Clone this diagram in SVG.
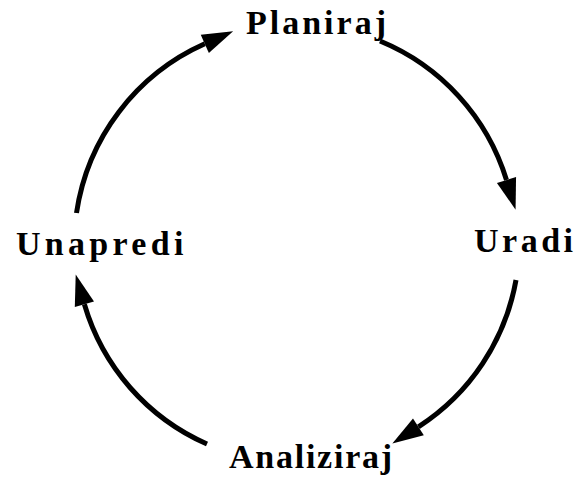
<svg xmlns="http://www.w3.org/2000/svg" width="579" height="478" viewBox="0 0 579 478">
  <style>
    .lbl { font-family: "Liberation Serif", "Times New Roman", serif; font-weight: bold; font-size: 34px; fill: #000; }
    .arc { fill: none; stroke: #000; stroke-width: 5; }
  </style>
  <defs>
    <marker id="ah" markerUnits="userSpaceOnUse" markerWidth="32" markerHeight="22" refX="0" refY="10" orient="auto" overflow="visible">
      <polygon points="0,0 31,10 0,20" fill="#000"/>
    </marker>
  </defs>
  <rect width="579" height="478" fill="#fff"/>
  <g id="connectors">
    <path class="arc" d="M 76.5 213 A 220 220 0 0 1 204.8 43.8" marker-end="url(#ah)"/>
    <path class="arc" d="M 380 41 A 220 220 0 0 1 506.5 180" marker-end="url(#ah)"/>
    <path class="arc" d="M 516 280 A 220 220 0 0 1 418.4 426.8" marker-end="url(#ah)"/>
    <path class="arc" d="M 207 444 A 220 220 0 0 1 84.4 304.3" marker-end="url(#ah)"/>
  </g>
  <g id="planiraj"><text class="lbl" x="246" y="34" letter-spacing="3">Planiraj</text></g>
  <g id="uradi"><text class="lbl" x="474" y="252" letter-spacing="3.5">Uradi</text></g>
  <g id="unapredi"><text class="lbl" x="16" y="255" letter-spacing="4.3">Unapredi</text></g>
  <g id="analiziraj"><text class="lbl" x="229" y="468" letter-spacing="1.75">Analiziraj</text></g>
</svg>
